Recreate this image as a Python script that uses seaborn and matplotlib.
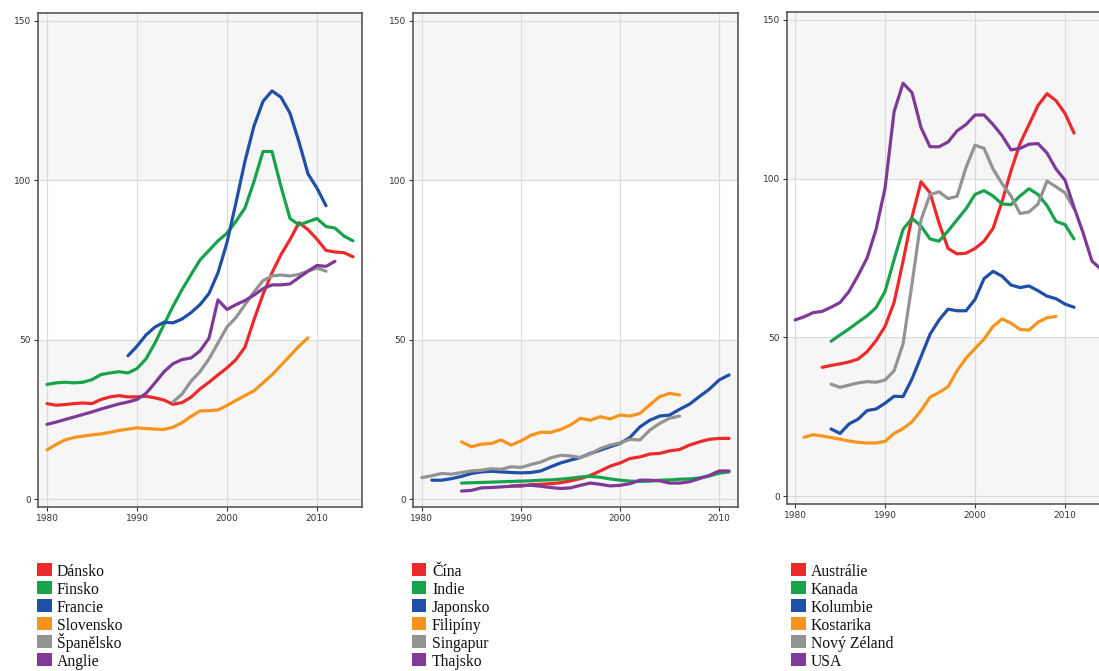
import pandas as pd
import matplotlib
matplotlib.use("Agg")
import matplotlib.pyplot as plt
from matplotlib.patches import Rectangle
import seaborn as sns

# --- data ---
# panel 1: Evropa
dansko_start, dansko = 1980, [30, 29.5, 29.7, 30, 30.2, 30, 31.3, 32.1, 32.5, 32.1,
                              32.1, 32.3, 31.8, 31.1, 29.8, 30.3, 32, 34.6, 36.7, 39,
                              41.2, 43.8, 47.7, 56.3, 64.2, 71, 76.7, 81.4, 86.7, 84.5,
                              81.5, 78, 77.5, 77.3, 76]
finsko_start, finsko = 1980, [36, 36.5, 36.7, 36.5, 36.7, 37.5, 39.1, 39.6, 40, 39.6,
                              41, 44, 49, 54.8, 60.5, 65.7, 70.4, 75, 78, 81,
                              83.4, 87.1, 91.3, 99.6, 109, 109, 98, 88, 86, 87,
                              88, 85.5, 85, 82.5, 81]
francie_start, francie = 1989, [45, 48, 51.5, 54, 55.5, 55.3, 56.5, 58.5, 61, 64.5,
                                71, 80.5, 93, 106, 117, 124.7, 128, 126, 121, 112,
                                102, 97.5, 92]
slovensko_start, slovensko = 1980, [15.5, 17.2, 18.6, 19.4, 19.8, 20.2, 20.5, 21, 21.6, 22,
                                    22.4, 22.2, 22, 21.9, 22.6, 24, 26, 27.7, 27.8, 28,
                                    29.4, 31, 32.5, 34, 36.5, 39, 42, 45, 48, 50.6]
spanelsko_start, spanelsko = 1994, [30.5, 33, 37, 40, 44, 49, 54, 57, 61, 65,
                                    68.5, 70, 70.3, 70, 70.5, 71.5, 72.5, 71.5]
anglie_start, anglie = 1980, [23.5, 24.2, 25, 25.8, 26.6, 27.4, 28.3, 29.1, 29.9, 30.5,
                              31.3, 33.2, 36.5, 40, 42.5, 43.8, 44.3, 46.5, 50.5, 62.5,
                              59.5, 61, 62.3, 64, 66, 67.2, 67.2, 67.5, 69.5, 71.5,
                              73.3, 73, 74.6]

# panel 2: Asie
cina_start, cina = 1989, [4.2, 4.1, 4.6, 4.7, 4.9, 5.2, 5.8, 6.5, 7.5, 8.9,
                          10.4, 11.4, 12.8, 13.3, 14.2, 14.4, 15.2, 15.6, 17, 18,
                          18.8, 19.1, 19.1]
indie_start, indie = 1984, [5.1, 5.2, 5.3, 5.4, 5.5, 5.6, 5.7, 5.8, 6, 6.1,
                            6.3, 6.6, 7, 7.2, 6.9, 6.4, 6, 5.7, 5.6, 5.7,
                            6, 6.1, 6.3, 6.4, 6.7, 7.3, 8.2, 8.6]
japonsko_start, japonsko = 1981, [6, 6, 6.5, 7.2, 8.1, 8.6, 8.8, 8.6, 8.4, 8.3,
                                  8.4, 8.9, 10.2, 11.4, 12.3, 13.1, 14.4, 15.4, 16.5, 17.5,
                                  19.4, 22.7, 24.8, 26.1, 26.4, 28.2, 29.8, 32.2, 34.5, 37.4,
                                  39]
filipiny_start, filipiny = 1984, [18, 16.5, 17.3, 17.5, 18.6, 17, 18.3, 20.1, 21, 21,
                                  21.9, 23.3, 25.4, 24.8, 25.9, 25.2, 26.4, 26.1, 26.9, 29.6,
                                  32.2, 33.2, 32.7]
singapur_start, singapur = 1980, [6.8, 7.4, 8.1, 7.9, 8.4, 8.9, 9.1, 9.6, 9.4, 10.2,
                                  10, 10.9, 11.7, 13, 13.8, 13.6, 13.1, 14.2, 15.9, 17,
                                  17.7, 18.8, 18.6, 21.7, 23.8, 25.4, 26.1]
thajsko_start, thajsko = 1984, [2.6, 2.8, 3.6, 3.7, 3.9, 4.1, 4.4, 4.4, 4.1, 3.7,
                                3.4, 3.6, 4.4, 5.1, 4.7, 4.2, 4.4, 4.9, 6, 6,
                                5.8, 5.1, 5.1, 5.5, 6.5, 7.5, 8.9, 8.9]

# panel 3: zámoří
australie_start, australie = 1983, [40.6, 41.2, 41.7, 42.3, 43.2, 45.5, 49, 53.5, 61, 74,
                                    88, 99, 95.5, 86, 78, 76.3, 76.5, 78, 80.3, 84.3,
                                    92.7, 102.5, 111, 117, 123, 126.7, 124.5, 120.5, 114.3]
kanada_start, kanada = 1984, [48.8, 50.8, 52.7, 54.8, 56.8, 59.4, 64.5, 74.5, 84, 87.5,
                              85, 81, 80.3, 83.5, 87, 90.5, 95, 96.2, 94.5, 92,
                              91.8, 94.5, 96.8, 95, 91.5, 86.5, 85.5, 81]
kolumbie_start, kolumbie = 1984, [21.2, 19.8, 22.8, 24.3, 27, 27.5, 29.3, 31.5, 31.4, 37,
                                  44, 51, 55.5, 58.9, 58.4, 58.4, 62, 68.5, 70.8, 69.3,
                                  66.5, 65.7, 66.2, 64.7, 63, 62.2, 60.5, 59.5]
kostarika_start, kostarika = 1981, [18.6, 19.4, 19, 18.5, 18, 17.4, 17, 16.8, 16.8, 17.3,
                                    19.8, 21.3, 23.5, 27, 31.2, 32.7, 34.5, 39.5, 43.5, 46.5,
                                    49.5, 53.5, 55.8, 54.5, 52.5, 52.3, 54.8, 56.2, 56.6]
novy_zeland_start, novy_zeland = 1984, [35.3, 34.3, 35, 35.7, 36.1, 35.9, 36.6, 39.5, 48, 67,
                                        87, 95, 95.8, 93.7, 94.4, 103.5, 110.5, 109.5, 103, 98.4,
                                        94.5, 89, 89.5, 92, 99.2, 97.4, 95.5, 90.5]
usa_start, usa = 1980, [55.5, 56.5, 57.8, 58.2, 59.5, 61, 64.5, 69.5, 75, 84,
                        97, 121, 130, 127, 116, 110, 110, 111.5, 115, 117,
                        120, 120, 117, 113.5, 109, 109.5, 110.8, 111, 108, 103,
                        99.5, 91, 83, 74, 71.5]

barvy = ["#ec2a2c", "#18a24b", "#1f4fa6", "#f7941d", "#939393", "#7f3a98"]

panely = [
    (["Dánsko", "Finsko", "Francie", "Slovensko", "Španělsko", "Anglie"],
     [(dansko_start, dansko), (finsko_start, finsko), (francie_start, francie),
      (slovensko_start, slovensko), (spanelsko_start, spanelsko), (anglie_start, anglie)]),
    (["Čína", "Indie", "Japonsko", "Filipíny", "Singapur", "Thajsko"],
     [(cina_start, cina), (indie_start, indie), (japonsko_start, japonsko),
      (filipiny_start, filipiny), (singapur_start, singapur), (thajsko_start, thajsko)]),
    (["Austrálie", "Kanada", "Kolumbie", "Kostarika", "Nový Zéland", "USA"],
     [(australie_start, australie), (kanada_start, kanada), (kolumbie_start, kolumbie),
      (kostarika_start, kostarika), (novy_zeland_start, novy_zeland), (usa_start, usa)]),
]

W, H = 1099, 671
# axes boxes in pixels: left, right, top, bottom, xlim
boxy = [(38, 362, 13, 507, (1979.0, 2015.0)),
        (413, 738, 13, 507, (1979.1, 2011.9)),
        (787, 1110, 12, 504, (1979.1, 2015.0))]
legendy_x = [37, 412, 791]

sns.set_style("white")
fig = plt.figure(figsize=(W / 100, H / 100), dpi=100)

for (jmena, serie), (l, r, t, b, xl), lx in zip(panely, boxy, legendy_x):
    ax = fig.add_axes([l / W, 1 - b / H, (r - l) / W, (b - t) / H])
    radky = []
    for jmeno, (start, hodnoty) in zip(jmena, serie):
        for i, v in enumerate(hodnoty):
            radky.append({"rok": start + i, "hodnota": v, "zeme": jmeno})
    df = pd.DataFrame(radky)

    # jemné střídání pásů pozadí
    ax.axhspan(-10, 50, color="#f6f6f6", zorder=0, lw=0)
    ax.axhspan(100, 160, color="#f6f6f6", zorder=0, lw=0)
    sns.lineplot(data=df, x="rok", y="hodnota", hue="zeme", hue_order=jmena,
                 palette=barvy, estimator=None, linewidth=2.3, legend=False, ax=ax,
                 zorder=3)

    ax.set_xlim(*xl)
    ax.set_ylim(-2.4, 152.4)
    ax.set_xticks([1980, 1990, 2000, 2010])
    ax.set_yticks([0, 50, 100, 150])
    ax.grid(True, color="#dadada", linewidth=0.8)
    ax.set_axisbelow(True)
    ax.set_xlabel("")
    ax.set_ylabel("")
    ax.tick_params(axis="both", labelsize=6.5, colors="#333333", length=3,
                   width=0.8, direction="out", left=True, bottom=True, pad=2)
    for s in ax.spines.values():
        s.set_color("#4a4a4a")
        s.set_linewidth(1.1)

    # legenda pod grafem: barevný čtverec + název, pevný řádkový krok
    for i, (c, n) in enumerate(zip(barvy, jmena)):
        top = 563 + 18.0 * i
        fig.add_artist(Rectangle((lx / W, 1 - (top + 13) / H), 14.5 / W, 13 / H,
                                 transform=fig.transFigure, facecolor=c,
                                 edgecolor="none"))
        fig.text((lx + 20) / W, 1 - (top + 13.3) / H, n, ha="left", va="baseline",
                 family="Liberation Serif", fontsize=11.3, color="#111111")

fig.savefig("out.png", dpi=100)
